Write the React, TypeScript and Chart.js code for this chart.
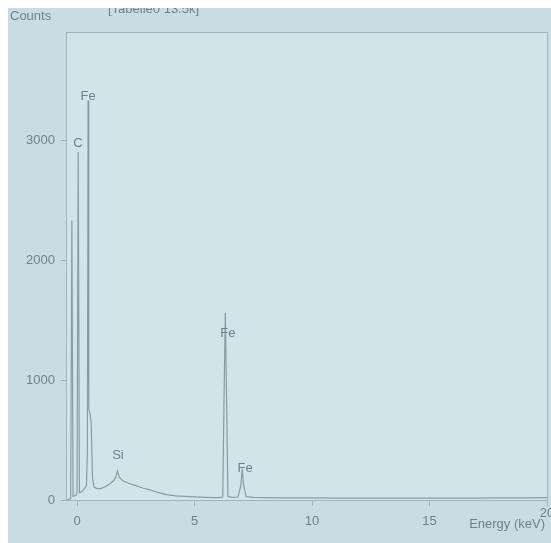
import React, { useEffect, useRef } from "react";
import { Chart, registerables } from "chart.js";

Chart.register(...registerables);

// Spectrum: energy (keV) and counts
const energies = [
  -0.47, -0.27, -0.22, -0.17, -0.05, 0.0, 0.05, 0.1, 0.2, 0.3, 0.4, 0.44, 0.47, 0.5,
  0.55, 0.6, 0.66, 0.72, 0.85, 1.0, 1.2, 1.4, 1.55, 1.65, 1.72, 1.8, 1.95, 2.2,
  2.5, 2.8, 3.1, 3.4, 3.8, 4.2, 4.6, 5.0, 5.5, 6.0, 6.2, 6.26, 6.31, 6.36, 6.42,
  6.6, 6.85, 6.97, 7.03, 7.09, 7.2, 7.5, 8.0, 9.0, 10.0, 11.0, 12.0, 13.0, 14.0,
  15.0, 16.0, 17.0, 18.0, 19.0, 20.0,
];
const counts = [
  0, 10, 2330, 30, 40, 60, 2900, 60, 70, 90, 120, 400, 3330, 760,
  720, 650, 180, 110, 95, 95, 110, 135, 160, 190, 240, 190, 160, 140,
  120, 100, 85, 65, 45, 35, 30, 26, 22, 20, 25, 900, 1560, 900, 30,
  22, 25, 120, 260, 120, 28, 22, 20, 18, 17, 16, 15, 15, 15,
  15, 16, 16, 17, 18, 20,
];

const xTicks = [0, 5, 10, 15, 20];
const yTicks = [0, 1000, 2000, 3000];

const peakLabels = ["Fe", "C", "Fe", "Si", "Fe"];
const peakEnergies = [0.47, 0.04, 6.42, 1.74, 7.15];
const peakCounts = [3360, 2975, 1390, 375, 267];

const TEXT = "#6f8188";
const LINE = "#8a9ca2";
const FONT = "'Liberation Sans', Arial, sans-serif";

export default function App() {
  const ref = useRef<HTMLCanvasElement | null>(null);
  useEffect(() => {
    document.body.style.margin = "8px 0 0 8px";
    document.body.style.overflow = "hidden";
    if (!ref.current) return;
    const lastTick = xTicks[xTicks.length - 1];
    const deco = {
      id: "deco",
      beforeDraw(chart: any) {
        const { ctx, chartArea: a, width, height } = chart;
        ctx.save();
        ctx.fillStyle = "#c9dce1";
        ctx.fillRect(0, 0, width, height);
        ctx.fillStyle = "#d3e4e8";
        ctx.fillRect(a.left, a.top, a.right - a.left, a.bottom - a.top);
        ctx.restore();
      },
      afterDraw(chart: any) {
        const { ctx, chartArea: a, scales } = chart;
        ctx.save();
        ctx.strokeStyle = "#a3b4b9";
        ctx.lineWidth = 1;
        ctx.strokeRect(a.left + 0.5, a.top + 0.5, a.right - a.left, a.bottom - a.top);
        ctx.fillStyle = TEXT;
        ctx.font = "13px " + FONT;
        ctx.textBaseline = "middle";
        ctx.textAlign = "left";
        ctx.fillText("Counts", 2, 8);
        ctx.fillText("[Tabelle0 13.5k]", 100, 1);
        ctx.textAlign = "right";
        ctx.fillText("Energy (keV)", 537, 516);
        ctx.textAlign = "center";
        ctx.fillText(String(lastTick), scales.x.getPixelForValue(lastTick), 505);
        for (let i = 0; i < peakLabels.length; i++) {
          const px = scales.x.getPixelForValue(peakEnergies[i]);
          const py = scales.y.getPixelForValue(peakCounts[i]);
          ctx.fillText(peakLabels[i], px, py);
        }
        ctx.restore();
      },
    };
    const chart = new Chart(ref.current, {
      type: "line",
      data: {
        datasets: [
          {
            data: energies.map((e, i) => ({ x: e, y: counts[i] })),
            borderColor: LINE,
            borderWidth: 1.2,
            pointRadius: 0,
            tension: 0,
            fill: false,
          },
        ],
      },
      options: {
        animation: false,
        responsive: false,
        maintainAspectRatio: false,
        layout: { padding: { top: 24, right: 4, left: 0, bottom: 0 } },
        plugins: { legend: { display: false }, tooltip: { enabled: false } },
        scales: {
          x: {
            type: "linear",
            min: -0.47,
            max: 20,
            afterBuildTicks: (s: any) => {
              s.ticks = xTicks.map((v) => ({ value: v }));
            },
            afterFit: (s: any) => {
              s.height = 43;
              s.paddingRight = 0;
              s.paddingLeft = 0;
            },
            grid: { display: true, drawOnChartArea: false, drawTicks: true, tickLength: 6, color: "#a3b4b9" },
            border: { color: "#a3b4b9" },
            ticks: {
              color: TEXT,
              font: { size: 13, family: FONT },
              padding: 8,
              maxRotation: 0,
              callback: (v: any) => (v === lastTick ? "" : String(v)),
            },
          },
          y: {
            min: 0,
            max: 3900,
            afterBuildTicks: (s: any) => {
              s.ticks = yTicks.map((v) => ({ value: v }));
            },
            afterFit: (s: any) => {
              s.width = 58;
              s.paddingTop = 0;
              s.paddingBottom = 0;
            },
            grid: { display: true, drawOnChartArea: false, drawTicks: true, tickLength: 5, color: "#a3b4b9" },
            border: { color: "#a3b4b9" },
            ticks: {
              color: TEXT,
              font: { size: 13, family: FONT },
              padding: 6,
              callback: (v: any) => String(v),
            },
          },
        },
      },
      plugins: [deco],
    });
    return () => chart.destroy();
  }, []);
  return (
    <div style={{ width: 543, height: 535 }}>
      <canvas ref={ref} width={543} height={535} style={{ display: "block" }} />
    </div>
  );
}
